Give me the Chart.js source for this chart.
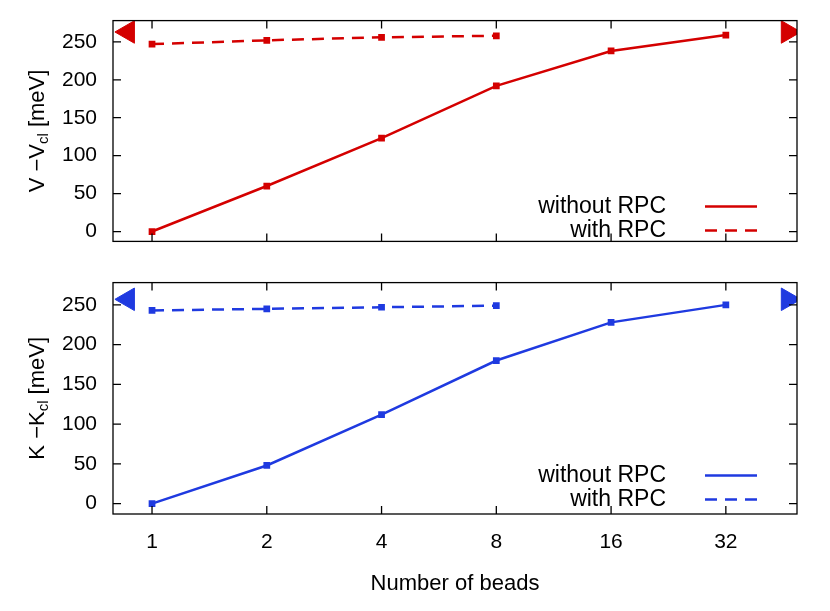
<!DOCTYPE html>
<html><head><meta charset="utf-8">
<script src="https://cdn.jsdelivr.net/npm/chart.js@4"></script>
<style>body{margin:0;background:#fff;width:830px;height:611px;position:relative;overflow:hidden}
canvas{position:absolute;left:0;display:block}</style></head>
<body>
<canvas id="c1" width="830" height="262" style="top:0;width:830px;height:262px"></canvas>
<canvas id="c2" width="830" height="349" style="top:262px;width:830px;height:349px"></canvas>
<script>
const beads = [1, 2, 4, 8, 16, 32];
const beadsRPC = [1, 2, 4, 8];
const vNoRPC = [0, 60, 123, 192, 238, 259];
const vRPC = [247, 252, 256, 258];
const kNoRPC = [0, 48, 112, 180, 228, 250];
const kRPC = [243, 245, 247, 249];
const yTicks = [0, 50, 100, 150, 200, 250];
const legendLabels = ['without RPC', 'with RPC'];
const RED = '#d40000', BLUE = '#1f3ae0';
const FONT = '"Liberation Sans", Arial, sans-serif';

function pts(xs, ys){ return xs.map((b,i)=>({x:Math.log2(b), y:ys[i]})); }

const framePlugin = {
  id:'frame',
  afterDraw(chart){
    const o = chart.options.plugins.frame, ctx = chart.ctx, a = chart.chartArea;
    ctx.save();
    ctx.strokeStyle = '#000'; ctx.lineWidth = 1.3;
    ctx.strokeRect(a.left, a.top, a.right-a.left, a.bottom-a.top);
    const xs = chart.scales.x, ys = chart.scales.y;
    ctx.beginPath();
    for (let i=0;i<beads.length;i++){
      const px = xs.getPixelForValue(i);
      ctx.moveTo(px,a.bottom); ctx.lineTo(px,a.bottom-8);
      ctx.moveTo(px,a.top); ctx.lineTo(px,a.top+8);
    }
    for (const v of yTicks){
      const py = ys.getPixelForValue(v);
      ctx.moveTo(a.left,py); ctx.lineTo(a.left+8,py);
      ctx.moveTo(a.right,py); ctx.lineTo(a.right-8,py);
    }
    ctx.stroke();
    ctx.font = '23px '+FONT; ctx.fillStyle='#000'; ctx.textAlign='right'; ctx.textBaseline='middle';
    ctx.strokeStyle = o.color; ctx.lineWidth = 2.5;
    legendLabels.forEach((t,i)=>{
      const y = a.top + o.legY + i*24;
      ctx.fillText(t, a.left+553, y);
      ctx.setLineDash(i===1?[12,8]:[]);
      ctx.beginPath(); ctx.moveTo(a.left+592,y); ctx.lineTo(a.left+644,y); ctx.stroke();
    });
    ctx.setLineDash([]);
    ctx.translate(38, (a.top+a.bottom)/2); ctx.rotate(-Math.PI/2);
    ctx.textAlign='left'; ctx.textBaseline='middle';
    const p1 = o.sym+' \u2212'+o.sym, sub='cl', p2=' [meV]';
    ctx.font='22px '+FONT; const w1=ctx.measureText(p1).width, w3=ctx.measureText(p2).width;
    ctx.font='15px '+FONT; const w2=ctx.measureText(sub).width;
    let x = -(w1+w2+w3)/2;
    ctx.font='22px '+FONT; ctx.fillText(p1,x,0); x+=w1;
    ctx.font='15px '+FONT; ctx.fillText(sub,x,6); x+=w2;
    ctx.font='22px '+FONT; ctx.fillText(p2,x,0);
    ctx.restore();
  }
};

function make(id, solid, dashed, color, arrowY, sym, legY, bottom){
  return new Chart(document.getElementById(id), {
    type:'line',
    data:{datasets:[
      {data:pts(beads, solid), borderColor:color, borderWidth:2.5, pointStyle:'rect', pointRadius:3, pointBackgroundColor:color, pointBorderColor:color},
      {data:pts(beadsRPC, dashed), borderColor:color, borderWidth:2.5, borderDash:[12,8], pointStyle:'rect', pointRadius:3, pointBackgroundColor:color, pointBorderColor:color},
      {data:[{x:-0.21,y:arrowY}], showLine:false, pointStyle:'triangle', rotation:-90, pointRadius:13, pointBackgroundColor:color, pointBorderColor:color},
      {data:[{x:5.54,y:arrowY}], showLine:false, pointStyle:'triangle', rotation:90, pointRadius:13, pointBackgroundColor:color, pointBorderColor:color}
    ]},
    options:{
      responsive:false, animation:false, devicePixelRatio:1,
      layout:{padding: bottom ? {top:8,right:33,bottom:10,left:0} : {top:12,right:33,bottom:7,left:0}},
      plugins:{legend:{display:false}, tooltip:{enabled:false}, frame:{color, sym, legY}},
      scales:{
        x:{type:'linear', min:-0.34, max:5.62, display:bottom,
          afterBuildTicks:s=>{s.ticks=beads.map((b,i)=>({value:i}));},
          ticks:{callback:(v)=>String(beads[v]), color:'#000', font:{size:21,family:FONT}, padding:8},
          grid:{display:false}, border:{display:false},
          title:{display:true, text:'Number of beads', color:'#000', font:{size:22,family:FONT}, padding:{top:18}},
          afterFit:s=>{ if(bottom) s.height=87; }
        },
        y:{type:'linear', min:-13, max:278,
          afterBuildTicks:s=>{s.ticks=yTicks.map(v=>({value:v}));},
          ticks:{color:'#000', font:{size:21,family:FONT}, padding:8},
          grid:{display:false}, border:{display:false},
          afterFit:s=>{s.width=113;}
        }
      }
    },
    plugins:[framePlugin]
  });
}
make('c1', vNoRPC, vRPC, RED, 263, 'V', 186, false);
make('c2', kNoRPC, kRPC, BLUE, 257, 'K', 193, true);
</script>
</body></html>
